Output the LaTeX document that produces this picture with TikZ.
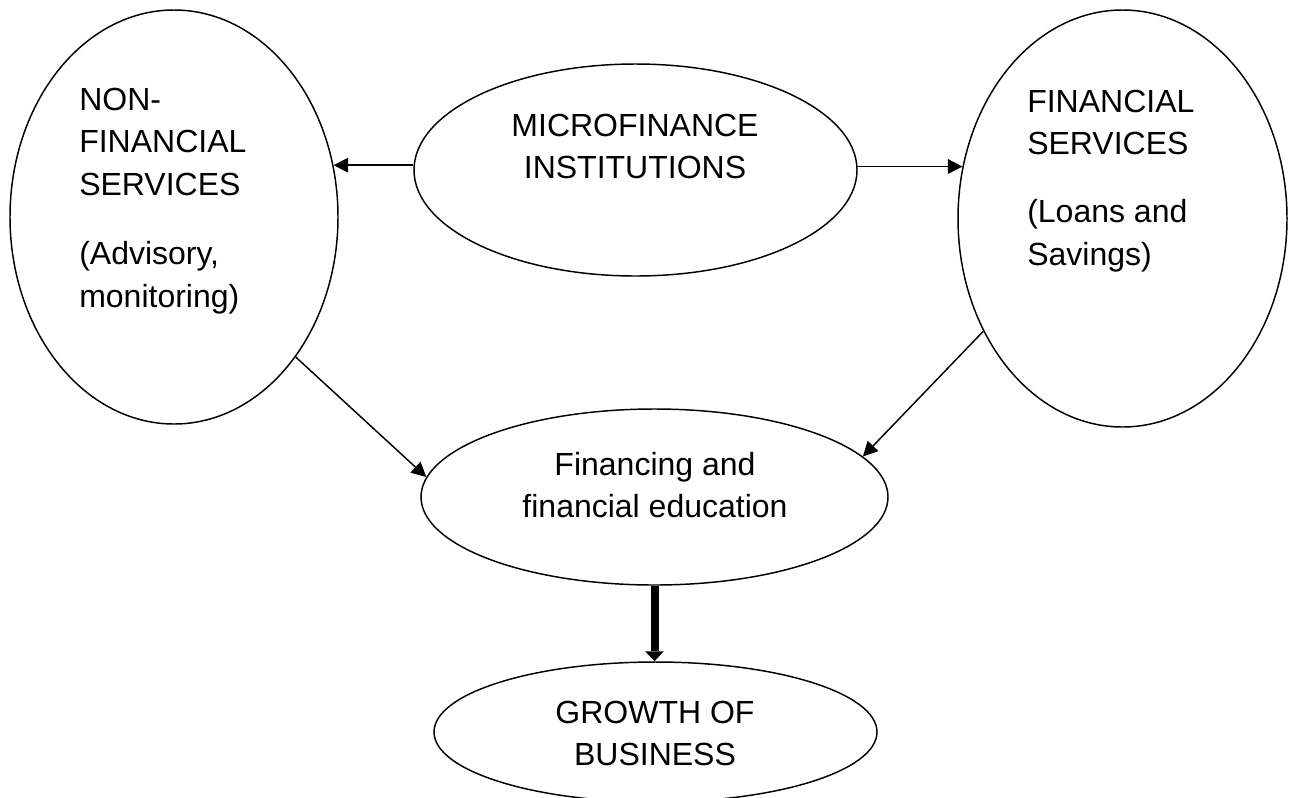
\documentclass[tikz,border=0pt]{standalone}
\usepackage{fontspec}
\setmainfont{Liberation Sans}
\usetikzlibrary{shapes.geometric,arrows.meta}
\begin{document}
\begin{tikzpicture}[x=0.75pt,y=-0.75pt,
  bubble/.style 2 args={draw, ellipse, line width=1.1pt, minimum width=#1, minimum height=#2, inner sep=0pt},
  caption/.style={inner sep=0pt, font=\fontsize{24}{32}\selectfont},
  link/.style={line width=1.1pt, -{Triangle[length=11pt,width=11pt]}},
  bold link/.style={line width=6pt, -{Triangle[length=7.5pt,width=14pt,line width=0pt]}}]
\useasboundingbox (0,0) rectangle (1291,797);

% ellipses
\node[bubble={246pt}{310.5pt}] (nfs) at (174,217) {};
\node[bubble={332.25pt}{159pt}] (mfi) at (635.5,170) {};
\node[bubble={246.75pt}{312.75pt}] (fs) at (1122.5,218.5) {};
\node[bubble={350.25pt}{132pt}] (fin) at (654.5,497) {};
\node[bubble={332.25pt}{105pt}] (growth) at (655.5,732) {};

% texts
\node[caption, anchor=base west] (nfsText) at (79,110)
  {\begin{tabular}[t]{@{}l@{}}NON-\\FINANCIAL\\SERVICES\\[20pt](Advisory,\\monitoring)\end{tabular}};
\node[caption, anchor=base west] (fsText) at (1027,112)
  {\begin{tabular}[t]{@{}l@{}}FINANCIAL\\SERVICES\\[19pt](Loans and\\Savings)\end{tabular}};
\node[caption, anchor=base] (mfiText) at (635,136)
  {\begin{tabular}[t]{@{}c@{}}MICROFINANCE\\INSTITUTIONS\end{tabular}};
\node[caption, anchor=base] (finText) at (655,475)
  {\begin{tabular}[t]{@{}c@{}}Financing and\\financial education\end{tabular}};
\node[caption, anchor=base] (growthText) at (655,723)
  {\begin{tabular}[t]{@{}c@{}}GROWTH OF\\BUSINESS\end{tabular}};

% connectors
\draw[link] (mfi.west |- nfs.18) -- (nfs.18);
\draw[link] (mfi.east |- fs.162.4) -- (fs.162.4);
\draw[link] (nfs.-49.4) -- (fin.175.5);
\draw[link] (fs.219.8) -- (fin.11.5);
\draw[bold link] (fin.south) -- (fin.south |- growth.north);
\end{tikzpicture}
\end{document}
